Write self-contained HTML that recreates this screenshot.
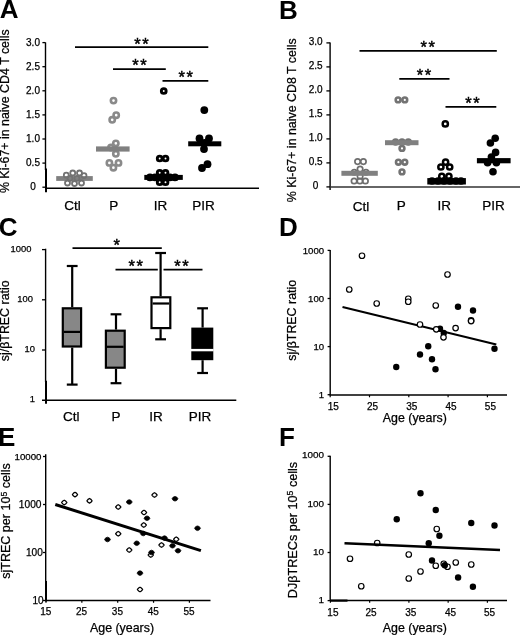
<!DOCTYPE html>
<html><head><meta charset="utf-8"><style>
html,body{margin:0;padding:0;background:#fff;}
body{width:520px;height:635px;overflow:hidden;}
svg{display:block;font-family:"Liberation Sans", sans-serif;will-change:transform;filter:blur(0.3px);}
</style></head><body>
<svg width="520" height="635" viewBox="0 0 520 635">
<rect width="520" height="635" fill="#fff"/>
<text x="-0.35" y="17.90" font-size="26" text-anchor="start" font-weight="bold" >A</text>
<text x="279.06" y="18.60" font-size="26" text-anchor="start" font-weight="bold" >B</text>
<text x="-1.27" y="236.30" font-size="26" text-anchor="start" font-weight="bold" >C</text>
<text x="279.06" y="236.40" font-size="26" text-anchor="start" font-weight="bold" >D</text>
<text x="-1.94" y="445.90" font-size="26" text-anchor="start" font-weight="bold" >E</text>
<text x="279.06" y="445.50" font-size="26" text-anchor="start" font-weight="bold" >F</text>
<line x1="45.50" y1="42.40" x2="45.50" y2="170.00" stroke="#000" stroke-width="1.4"/>
<line x1="46.00" y1="168.50" x2="46.00" y2="192.30" stroke="#000" stroke-width="2.0"/>
<line x1="45.50" y1="188.20" x2="259.00" y2="188.20" stroke="#000" stroke-width="1.6"/>
<line x1="42.40" y1="187.20" x2="45.50" y2="187.20" stroke="#000" stroke-width="1.3"/>
<text x="33.00" y="190.10" font-size="10" text-anchor="middle" font-weight="normal" stroke="#000" stroke-width="0.25">0</text>
<line x1="42.40" y1="163.10" x2="45.50" y2="163.10" stroke="#000" stroke-width="1.3"/>
<text x="33.00" y="166.00" font-size="10" text-anchor="middle" font-weight="normal" stroke="#000" stroke-width="0.25">0.5</text>
<line x1="42.40" y1="139.00" x2="45.50" y2="139.00" stroke="#000" stroke-width="1.3"/>
<text x="33.00" y="141.90" font-size="10" text-anchor="middle" font-weight="normal" stroke="#000" stroke-width="0.25">1.0</text>
<line x1="42.40" y1="114.90" x2="45.50" y2="114.90" stroke="#000" stroke-width="1.3"/>
<text x="33.00" y="117.80" font-size="10" text-anchor="middle" font-weight="normal" stroke="#000" stroke-width="0.25">1.5</text>
<line x1="42.40" y1="90.80" x2="45.50" y2="90.80" stroke="#000" stroke-width="1.3"/>
<text x="33.00" y="93.70" font-size="10" text-anchor="middle" font-weight="normal" stroke="#000" stroke-width="0.25">2.0</text>
<line x1="42.40" y1="66.70" x2="45.50" y2="66.70" stroke="#000" stroke-width="1.3"/>
<text x="33.00" y="69.60" font-size="10" text-anchor="middle" font-weight="normal" stroke="#000" stroke-width="0.25">2.5</text>
<line x1="42.40" y1="42.60" x2="45.50" y2="42.60" stroke="#000" stroke-width="1.3"/>
<text x="33.00" y="45.50" font-size="10" text-anchor="middle" font-weight="normal" stroke="#000" stroke-width="0.25">3.0</text>
<text transform="translate(8.90,111.20) rotate(-90)" font-size="12.4" text-anchor="middle" stroke="#000" stroke-width="0.25">% Ki-67+ in naive CD4 T cells</text>
<text x="64.21" y="209.70" font-size="13.5" text-anchor="start" font-weight="normal" stroke="#000" stroke-width="0.25">Ctl</text>
<text x="109.19" y="209.70" font-size="13.5" text-anchor="start" font-weight="normal" stroke="#000" stroke-width="0.25">P</text>
<text x="153.66" y="209.70" font-size="13.5" text-anchor="start" font-weight="normal" stroke="#000" stroke-width="0.25">IR</text>
<text x="192.19" y="209.70" font-size="13.5" text-anchor="start" font-weight="normal" stroke="#000" stroke-width="0.25">PIR</text>
<line x1="75.00" y1="47.20" x2="208.30" y2="47.20" stroke="#000" stroke-width="1.7"/>
<text x="134.34" y="50.25" font-size="16.5" letter-spacing="1.6" stroke="#000" stroke-width="0.45">**</text>
<line x1="113.00" y1="69.10" x2="165.80" y2="69.10" stroke="#000" stroke-width="1.7"/>
<text x="132.14" y="71.05" font-size="16.5" letter-spacing="1.6" stroke="#000" stroke-width="0.45">**</text>
<line x1="162.50" y1="80.80" x2="208.30" y2="80.80" stroke="#000" stroke-width="1.7"/>
<text x="178.54" y="82.85" font-size="16.5" letter-spacing="1.6" stroke="#000" stroke-width="0.45">**</text>
<rect x="56.20" y="176.10" width="36.60" height="4.80" fill="#808080" stroke="none" stroke-width="0"/>
<circle cx="70.00" cy="178.30" r="2.5" fill="none" stroke="#727272" stroke-width="1.8"/>
<circle cx="77.00" cy="178.30" r="2.5" fill="none" stroke="#727272" stroke-width="1.8"/>
<circle cx="72.75" cy="173.00" r="2.5" fill="none" stroke="#727272" stroke-width="1.8"/>
<circle cx="79.50" cy="173.00" r="2.5" fill="none" stroke="#727272" stroke-width="1.8"/>
<circle cx="66.30" cy="175.20" r="2.5" fill="none" stroke="#727272" stroke-width="1.8"/>
<circle cx="84.00" cy="175.60" r="2.5" fill="none" stroke="#727272" stroke-width="1.8"/>
<circle cx="67.50" cy="183.00" r="2.5" fill="none" stroke="#727272" stroke-width="1.8"/>
<circle cx="74.50" cy="183.50" r="2.5" fill="none" stroke="#727272" stroke-width="1.8"/>
<circle cx="81.50" cy="183.00" r="2.5" fill="none" stroke="#727272" stroke-width="1.8"/>
<circle cx="113.50" cy="100.60" r="2.65" fill="none" stroke="#8a8a8a" stroke-width="2.6"/>
<circle cx="116.20" cy="115.20" r="2.65" fill="none" stroke="#8a8a8a" stroke-width="2.6"/>
<circle cx="112.20" cy="119.80" r="2.65" fill="none" stroke="#8a8a8a" stroke-width="2.6"/>
<circle cx="111.00" cy="147.50" r="2.65" fill="none" stroke="#8a8a8a" stroke-width="2.6"/>
<circle cx="115.85" cy="143.35" r="2.65" fill="none" stroke="#8a8a8a" stroke-width="2.6"/>
<circle cx="115.85" cy="153.80" r="2.65" fill="none" stroke="#8a8a8a" stroke-width="2.6"/>
<circle cx="109.40" cy="162.90" r="2.65" fill="none" stroke="#8a8a8a" stroke-width="2.6"/>
<circle cx="118.50" cy="162.90" r="2.65" fill="none" stroke="#8a8a8a" stroke-width="2.6"/>
<circle cx="113.40" cy="167.70" r="2.65" fill="none" stroke="#8a8a8a" stroke-width="2.6"/>
<rect x="96.00" y="146.40" width="33.60" height="5.20" fill="#808080" stroke="none" stroke-width="0"/>
<circle cx="163.75" cy="91.00" r="2.4" fill="none" stroke="#000" stroke-width="2.9"/>
<circle cx="159.70" cy="158.50" r="2.4" fill="none" stroke="#000" stroke-width="2.9"/>
<circle cx="165.50" cy="158.50" r="2.4" fill="none" stroke="#000" stroke-width="2.9"/>
<circle cx="150.00" cy="177.40" r="2.4" fill="none" stroke="#000" stroke-width="2.9"/>
<circle cx="155.00" cy="177.40" r="2.4" fill="none" stroke="#000" stroke-width="2.9"/>
<circle cx="170.00" cy="177.40" r="2.4" fill="none" stroke="#000" stroke-width="2.9"/>
<circle cx="175.00" cy="177.40" r="2.4" fill="none" stroke="#000" stroke-width="2.9"/>
<circle cx="159.70" cy="172.80" r="2.4" fill="none" stroke="#000" stroke-width="2.9"/>
<circle cx="165.50" cy="172.80" r="2.4" fill="none" stroke="#000" stroke-width="2.9"/>
<circle cx="159.70" cy="182.20" r="2.4" fill="none" stroke="#000" stroke-width="2.9"/>
<circle cx="165.50" cy="182.20" r="2.4" fill="none" stroke="#000" stroke-width="2.9"/>
<rect x="144.30" y="174.90" width="38.50" height="5.00" fill="#000" stroke="none" stroke-width="0"/>
<circle cx="204.30" cy="110.10" r="3.9" fill="#000"/>
<circle cx="199.50" cy="138.40" r="3.9" fill="#000"/>
<circle cx="209.00" cy="138.40" r="3.9" fill="#000"/>
<circle cx="204.60" cy="143.00" r="3.9" fill="#000"/>
<circle cx="204.00" cy="149.10" r="3.9" fill="#000"/>
<circle cx="202.00" cy="168.00" r="3.9" fill="#000"/>
<circle cx="207.50" cy="164.20" r="3.9" fill="#000"/>
<rect x="188.20" y="141.30" width="33.10" height="5.00" fill="#000" stroke="none" stroke-width="0"/>
<line x1="330.10" y1="42.40" x2="330.10" y2="190.00" stroke="#000" stroke-width="1.4"/>
<line x1="330.10" y1="187.00" x2="520.00" y2="187.00" stroke="#333" stroke-width="1.7"/>
<line x1="326.40" y1="186.90" x2="330.10" y2="186.90" stroke="#000" stroke-width="1.3"/>
<text x="315.60" y="189.20" font-size="10" text-anchor="middle" font-weight="normal" stroke="#000" stroke-width="0.25">0</text>
<line x1="326.40" y1="162.90" x2="330.10" y2="162.90" stroke="#000" stroke-width="1.3"/>
<text x="315.60" y="165.20" font-size="10" text-anchor="middle" font-weight="normal" stroke="#000" stroke-width="0.25">0.5</text>
<line x1="326.40" y1="138.90" x2="330.10" y2="138.90" stroke="#000" stroke-width="1.3"/>
<text x="315.60" y="141.20" font-size="10" text-anchor="middle" font-weight="normal" stroke="#000" stroke-width="0.25">1.0</text>
<line x1="326.40" y1="114.90" x2="330.10" y2="114.90" stroke="#000" stroke-width="1.3"/>
<text x="315.60" y="117.20" font-size="10" text-anchor="middle" font-weight="normal" stroke="#000" stroke-width="0.25">1.5</text>
<line x1="326.40" y1="90.90" x2="330.10" y2="90.90" stroke="#000" stroke-width="1.3"/>
<text x="315.60" y="93.20" font-size="10" text-anchor="middle" font-weight="normal" stroke="#000" stroke-width="0.25">2.0</text>
<line x1="326.40" y1="66.90" x2="330.10" y2="66.90" stroke="#000" stroke-width="1.3"/>
<text x="315.60" y="69.20" font-size="10" text-anchor="middle" font-weight="normal" stroke="#000" stroke-width="0.25">2.5</text>
<line x1="326.40" y1="42.90" x2="330.10" y2="42.90" stroke="#000" stroke-width="1.3"/>
<text x="315.60" y="45.20" font-size="10" text-anchor="middle" font-weight="normal" stroke="#000" stroke-width="0.25">3.0</text>
<text transform="translate(296.30,120.30) rotate(-90)" font-size="12.4" text-anchor="middle" stroke="#000" stroke-width="0.25">% Ki-67+ in naive CD8 T cells</text>
<text x="352.81" y="211.40" font-size="13.5" text-anchor="start" font-weight="normal" stroke="#000" stroke-width="0.25">Ctl</text>
<text x="396.79" y="209.90" font-size="13.5" text-anchor="start" font-weight="normal" stroke="#000" stroke-width="0.25">P</text>
<text x="437.46" y="209.90" font-size="13.5" text-anchor="start" font-weight="normal" stroke="#000" stroke-width="0.25">IR</text>
<text x="482.19" y="209.90" font-size="13.5" text-anchor="start" font-weight="normal" stroke="#000" stroke-width="0.25">PIR</text>
<line x1="359.50" y1="50.80" x2="496.80" y2="50.80" stroke="#000" stroke-width="1.7"/>
<text x="420.54" y="53.05" font-size="16.5" letter-spacing="1.6" stroke="#000" stroke-width="0.45">**</text>
<line x1="399.30" y1="78.80" x2="449.50" y2="78.80" stroke="#000" stroke-width="1.7"/>
<text x="416.84" y="81.25" font-size="16.5" letter-spacing="1.6" stroke="#000" stroke-width="0.45">**</text>
<line x1="445.50" y1="106.80" x2="496.30" y2="106.80" stroke="#000" stroke-width="1.7"/>
<text x="465.34" y="108.85" font-size="16.5" letter-spacing="1.6" stroke="#000" stroke-width="0.45">**</text>
<circle cx="357.60" cy="161.60" r="2.7" fill="none" stroke="#6e6e6e" stroke-width="1.7"/>
<circle cx="363.40" cy="161.60" r="2.7" fill="none" stroke="#6e6e6e" stroke-width="1.7"/>
<circle cx="360.10" cy="169.10" r="2.7" fill="none" stroke="#6e6e6e" stroke-width="1.7"/>
<circle cx="354.30" cy="172.30" r="2.7" fill="none" stroke="#6e6e6e" stroke-width="1.7"/>
<circle cx="366.00" cy="172.30" r="2.7" fill="none" stroke="#6e6e6e" stroke-width="1.7"/>
<circle cx="360.10" cy="176.20" r="2.7" fill="none" stroke="#6e6e6e" stroke-width="1.7"/>
<circle cx="354.10" cy="181.00" r="2.7" fill="none" stroke="#6e6e6e" stroke-width="1.7"/>
<circle cx="359.90" cy="181.00" r="2.7" fill="none" stroke="#6e6e6e" stroke-width="1.7"/>
<circle cx="365.40" cy="181.00" r="2.7" fill="none" stroke="#6e6e6e" stroke-width="1.7"/>
<rect x="341.40" y="170.80" width="36.40" height="5.00" fill="#808080" stroke="none" stroke-width="0"/>
<circle cx="398.10" cy="99.90" r="2.4" fill="none" stroke="#737373" stroke-width="2.6"/>
<circle cx="404.80" cy="99.90" r="2.4" fill="none" stroke="#737373" stroke-width="2.6"/>
<circle cx="395.60" cy="142.00" r="2.4" fill="none" stroke="#737373" stroke-width="2.6"/>
<circle cx="402.00" cy="142.00" r="2.4" fill="none" stroke="#737373" stroke-width="2.6"/>
<circle cx="408.30" cy="142.00" r="2.4" fill="none" stroke="#737373" stroke-width="2.6"/>
<circle cx="402.00" cy="148.40" r="2.4" fill="none" stroke="#737373" stroke-width="2.6"/>
<circle cx="398.40" cy="162.20" r="2.4" fill="none" stroke="#737373" stroke-width="2.6"/>
<circle cx="404.80" cy="162.20" r="2.4" fill="none" stroke="#737373" stroke-width="2.6"/>
<circle cx="402.00" cy="171.90" r="2.4" fill="none" stroke="#737373" stroke-width="2.6"/>
<rect x="385.00" y="140.20" width="33.50" height="5.00" fill="#808080" stroke="none" stroke-width="0"/>
<circle cx="445.30" cy="123.90" r="2.6" fill="none" stroke="#000" stroke-width="2.5"/>
<circle cx="445.60" cy="162.20" r="2.6" fill="none" stroke="#000" stroke-width="2.5"/>
<circle cx="440.90" cy="167.00" r="2.6" fill="none" stroke="#000" stroke-width="2.5"/>
<circle cx="449.70" cy="167.00" r="2.6" fill="none" stroke="#000" stroke-width="2.5"/>
<circle cx="441.80" cy="176.40" r="2.6" fill="none" stroke="#000" stroke-width="2.5"/>
<circle cx="448.90" cy="176.40" r="2.6" fill="none" stroke="#000" stroke-width="2.5"/>
<circle cx="432.00" cy="181.00" r="2.6" fill="none" stroke="#000" stroke-width="2.5"/>
<circle cx="438.00" cy="181.00" r="2.6" fill="none" stroke="#000" stroke-width="2.5"/>
<circle cx="444.00" cy="181.00" r="2.6" fill="none" stroke="#000" stroke-width="2.5"/>
<circle cx="450.00" cy="181.00" r="2.6" fill="none" stroke="#000" stroke-width="2.5"/>
<circle cx="456.00" cy="181.00" r="2.6" fill="none" stroke="#000" stroke-width="2.5"/>
<circle cx="461.00" cy="181.00" r="2.6" fill="none" stroke="#000" stroke-width="2.5"/>
<rect x="427.30" y="178.10" width="38.60" height="6.40" fill="#000" stroke="none" stroke-width="0"/>
<circle cx="495.20" cy="138.20" r="3.8" fill="#000"/>
<circle cx="490.40" cy="143.00" r="3.8" fill="#000"/>
<circle cx="495.60" cy="152.40" r="3.8" fill="#000"/>
<circle cx="491.40" cy="157.10" r="3.8" fill="#000"/>
<circle cx="487.60" cy="162.80" r="3.8" fill="#000"/>
<circle cx="496.40" cy="162.80" r="3.8" fill="#000"/>
<circle cx="493.00" cy="171.80" r="3.8" fill="#000"/>
<rect x="476.90" y="158.10" width="33.70" height="5.20" fill="#000" stroke="none" stroke-width="0"/>
<line x1="45.60" y1="248.70" x2="45.60" y2="382.00" stroke="#000" stroke-width="1.4"/>
<line x1="46.00" y1="380.70" x2="46.00" y2="403.80" stroke="#000" stroke-width="2.0"/>
<line x1="42.00" y1="400.30" x2="236.30" y2="400.30" stroke="#000" stroke-width="1.5"/>
<line x1="42.00" y1="249.60" x2="45.60" y2="249.60" stroke="#000" stroke-width="1.3"/>
<text x="31.35" y="251.60" font-size="9.4" text-anchor="end" font-weight="normal" stroke="#000" stroke-width="0.25">1000</text>
<line x1="42.00" y1="299.80" x2="45.60" y2="299.80" stroke="#000" stroke-width="1.3"/>
<text x="32.95" y="301.70" font-size="9.4" text-anchor="end" font-weight="normal" stroke="#000" stroke-width="0.25">100</text>
<line x1="42.00" y1="350.00" x2="45.60" y2="350.00" stroke="#000" stroke-width="1.3"/>
<text x="34.95" y="351.60" font-size="9.4" text-anchor="end" font-weight="normal" stroke="#000" stroke-width="0.25">10</text>
<text x="34.95" y="402.20" font-size="9.4" text-anchor="end" font-weight="normal" stroke="#000" stroke-width="0.25">1</text>
<text transform="translate(8.90,320.80) rotate(-90)" font-size="12.4" text-anchor="middle" stroke="#000" stroke-width="0.25">sj/&#946;TREC ratio</text>
<text x="62.91" y="421.20" font-size="13.5" text-anchor="start" font-weight="normal" stroke="#000" stroke-width="0.25">Ctl</text>
<text x="111.59" y="421.20" font-size="13.5" text-anchor="start" font-weight="normal" stroke="#000" stroke-width="0.25">P</text>
<text x="149.16" y="421.20" font-size="13.5" text-anchor="start" font-weight="normal" stroke="#000" stroke-width="0.25">IR</text>
<text x="188.79" y="421.20" font-size="13.5" text-anchor="start" font-weight="normal" stroke="#000" stroke-width="0.25">PIR</text>
<line x1="72.50" y1="248.20" x2="161.80" y2="248.20" stroke="#000" stroke-width="1.7"/>
<text x="113.54" y="251.25" font-size="16.5" letter-spacing="1.6" stroke="#000" stroke-width="0.45">*</text>
<line x1="115.50" y1="269.60" x2="157.80" y2="269.60" stroke="#000" stroke-width="1.7"/>
<line x1="163.50" y1="269.60" x2="202.50" y2="269.60" stroke="#000" stroke-width="1.7"/>
<text x="128.54" y="272.25" font-size="16.5" letter-spacing="1.6" stroke="#000" stroke-width="0.45">**</text>
<text x="174.34" y="272.25" font-size="16.5" letter-spacing="1.6" stroke="#000" stroke-width="0.45">**</text>
<line x1="72.20" y1="266.00" x2="72.20" y2="307.20" stroke="#000" stroke-width="2.2"/>
<line x1="72.20" y1="347.60" x2="72.20" y2="384.60" stroke="#000" stroke-width="2.2"/>
<line x1="66.80" y1="266.00" x2="77.60" y2="266.00" stroke="#000" stroke-width="2.2"/>
<line x1="66.80" y1="384.60" x2="77.60" y2="384.60" stroke="#000" stroke-width="2.2"/>
<rect x="62.80" y="308.30" width="18.30" height="38.20" fill="#878787" stroke="#000" stroke-width="2.2"/>
<line x1="63.90" y1="331.90" x2="80.00" y2="331.90" stroke="#000" stroke-width="2.2"/>
<line x1="116.00" y1="314.30" x2="116.00" y2="329.60" stroke="#000" stroke-width="2.2"/>
<line x1="116.00" y1="368.80" x2="116.00" y2="383.20" stroke="#000" stroke-width="2.2"/>
<line x1="110.60" y1="314.30" x2="121.40" y2="314.30" stroke="#000" stroke-width="2.2"/>
<line x1="110.60" y1="383.20" x2="121.40" y2="383.20" stroke="#000" stroke-width="2.2"/>
<rect x="105.90" y="330.70" width="18.80" height="37.00" fill="#878787" stroke="#000" stroke-width="2.2"/>
<line x1="107.00" y1="346.80" x2="123.60" y2="346.80" stroke="#000" stroke-width="2.2"/>
<line x1="160.60" y1="253.00" x2="160.60" y2="296.20" stroke="#000" stroke-width="2.2"/>
<line x1="160.60" y1="329.20" x2="160.60" y2="339.30" stroke="#000" stroke-width="2.2"/>
<line x1="155.20" y1="253.00" x2="166.00" y2="253.00" stroke="#000" stroke-width="2.2"/>
<line x1="155.20" y1="339.30" x2="166.00" y2="339.30" stroke="#000" stroke-width="2.2"/>
<rect x="151.50" y="297.30" width="18.80" height="30.80" fill="#fff" stroke="#000" stroke-width="2.2"/>
<line x1="152.60" y1="303.50" x2="169.20" y2="303.50" stroke="#000" stroke-width="2.2"/>
<line x1="202.60" y1="308.30" x2="202.60" y2="327.60" stroke="#000" stroke-width="2.2"/>
<line x1="202.60" y1="360.20" x2="202.60" y2="373.00" stroke="#000" stroke-width="2.2"/>
<line x1="197.20" y1="308.30" x2="208.00" y2="308.30" stroke="#000" stroke-width="2.2"/>
<line x1="197.20" y1="373.00" x2="208.00" y2="373.00" stroke="#000" stroke-width="2.2"/>
<rect x="192.40" y="328.70" width="19.80" height="30.40" fill="#000" stroke="#000" stroke-width="2.2"/>
<line x1="191.00" y1="350.10" x2="213.60" y2="350.10" stroke="#fff" stroke-width="2.4"/>
<line x1="330.20" y1="250.00" x2="330.20" y2="395.50" stroke="#000" stroke-width="1.4"/>
<line x1="330.20" y1="395.00" x2="507.00" y2="395.00" stroke="#000" stroke-width="1.5"/>
<line x1="327.60" y1="250.40" x2="330.20" y2="250.40" stroke="#000" stroke-width="1.3"/>
<text x="324.10" y="253.80" font-size="9.6" text-anchor="end" font-weight="normal" stroke="#000" stroke-width="0.25">1000</text>
<line x1="327.60" y1="298.50" x2="330.20" y2="298.50" stroke="#000" stroke-width="1.3"/>
<text x="324.10" y="301.90" font-size="9.6" text-anchor="end" font-weight="normal" stroke="#000" stroke-width="0.25">100</text>
<line x1="327.60" y1="346.60" x2="330.20" y2="346.60" stroke="#000" stroke-width="1.3"/>
<text x="324.10" y="350.00" font-size="9.6" text-anchor="end" font-weight="normal" stroke="#000" stroke-width="0.25">10</text>
<line x1="327.60" y1="394.70" x2="330.20" y2="394.70" stroke="#000" stroke-width="1.3"/>
<text x="324.10" y="398.10" font-size="9.6" text-anchor="end" font-weight="normal" stroke="#000" stroke-width="0.25">1</text>
<line x1="330.20" y1="395.00" x2="330.20" y2="397.30" stroke="#000" stroke-width="1.2"/>
<text x="333.20" y="409.80" font-size="10" text-anchor="middle" font-weight="normal" stroke="#000" stroke-width="0.25">15</text>
<line x1="369.50" y1="395.00" x2="369.50" y2="397.30" stroke="#000" stroke-width="1.2"/>
<text x="372.50" y="409.80" font-size="10" text-anchor="middle" font-weight="normal" stroke="#000" stroke-width="0.25">25</text>
<line x1="408.80" y1="395.00" x2="408.80" y2="397.30" stroke="#000" stroke-width="1.2"/>
<text x="411.80" y="409.80" font-size="10" text-anchor="middle" font-weight="normal" stroke="#000" stroke-width="0.25">35</text>
<line x1="448.10" y1="395.00" x2="448.10" y2="397.30" stroke="#000" stroke-width="1.2"/>
<text x="451.10" y="409.80" font-size="10" text-anchor="middle" font-weight="normal" stroke="#000" stroke-width="0.25">45</text>
<line x1="487.40" y1="395.00" x2="487.40" y2="397.30" stroke="#000" stroke-width="1.2"/>
<text x="490.40" y="409.80" font-size="10" text-anchor="middle" font-weight="normal" stroke="#000" stroke-width="0.25">55</text>
<text x="382.80" y="421.80" font-size="12.4" text-anchor="start" font-weight="normal" stroke="#000" stroke-width="0.25">Age (years)</text>
<text transform="translate(296.30,320.30) rotate(-90)" font-size="12.4" text-anchor="middle" stroke="#000" stroke-width="0.25">sj/&#946;TREC ratio</text>
<line x1="342.50" y1="306.90" x2="496.30" y2="344.50" stroke="#000" stroke-width="2.1"/>
<circle cx="458.00" cy="306.75" r="3.2" fill="#000"/>
<circle cx="473.00" cy="310.50" r="3.2" fill="#000"/>
<circle cx="440.00" cy="328.75" r="3.2" fill="#000"/>
<circle cx="443.75" cy="333.00" r="3.2" fill="#000"/>
<circle cx="428.25" cy="346.25" r="3.2" fill="#000"/>
<circle cx="420.00" cy="354.50" r="3.2" fill="#000"/>
<circle cx="432.00" cy="359.25" r="3.2" fill="#000"/>
<circle cx="435.50" cy="369.25" r="3.2" fill="#000"/>
<circle cx="396.25" cy="367.00" r="3.2" fill="#000"/>
<circle cx="494.50" cy="348.75" r="3.2" fill="#000"/>
<circle cx="362.00" cy="255.75" r="2.75" fill="#fff" stroke="#000" stroke-width="1.2"/>
<circle cx="349.25" cy="289.50" r="2.75" fill="#fff" stroke="#000" stroke-width="1.2"/>
<circle cx="376.70" cy="303.50" r="2.75" fill="#fff" stroke="#000" stroke-width="1.2"/>
<circle cx="408.25" cy="298.75" r="2.75" fill="#fff" stroke="#000" stroke-width="1.2"/>
<circle cx="408.25" cy="301.75" r="2.75" fill="#fff" stroke="#000" stroke-width="1.2"/>
<circle cx="435.75" cy="305.50" r="2.75" fill="#fff" stroke="#000" stroke-width="1.2"/>
<circle cx="447.50" cy="274.50" r="2.75" fill="#fff" stroke="#000" stroke-width="1.2"/>
<circle cx="420.00" cy="324.50" r="2.75" fill="#fff" stroke="#000" stroke-width="1.2"/>
<circle cx="436.25" cy="329.30" r="2.75" fill="#fff" stroke="#000" stroke-width="1.2"/>
<circle cx="443.50" cy="337.30" r="2.75" fill="#fff" stroke="#000" stroke-width="1.2"/>
<circle cx="455.60" cy="328.10" r="2.75" fill="#fff" stroke="#000" stroke-width="1.2"/>
<circle cx="471.10" cy="320.40" r="2.75" fill="#fff" stroke="#000" stroke-width="1.2"/>
<circle cx="471.10" cy="321.10" r="2.75" fill="#fff" stroke="#000" stroke-width="1.2"/>
<line x1="45.70" y1="454.30" x2="45.70" y2="583.00" stroke="#000" stroke-width="1.4"/>
<line x1="46.00" y1="581.00" x2="46.00" y2="601.50" stroke="#000" stroke-width="2.0"/>
<line x1="45.70" y1="600.40" x2="210.50" y2="600.40" stroke="#000" stroke-width="1.5"/>
<line x1="43.00" y1="456.50" x2="45.70" y2="456.50" stroke="#000" stroke-width="1.3"/>
<text x="41.50" y="460.00" font-size="9.7" text-anchor="end" font-weight="normal" stroke="#000" stroke-width="0.25">10000</text>
<line x1="43.00" y1="504.50" x2="45.70" y2="504.50" stroke="#000" stroke-width="1.3"/>
<text x="41.50" y="508.20" font-size="10.2" text-anchor="end" font-weight="normal" stroke="#000" stroke-width="0.25">1000</text>
<line x1="43.00" y1="552.50" x2="45.70" y2="552.50" stroke="#000" stroke-width="1.3"/>
<text x="42.80" y="555.60" font-size="10.1" text-anchor="end" font-weight="normal" stroke="#000" stroke-width="0.25">100</text>
<line x1="43.00" y1="600.50" x2="45.70" y2="600.50" stroke="#000" stroke-width="1.3"/>
<text x="43.60" y="603.50" font-size="10.0" text-anchor="end" font-weight="normal" stroke="#000" stroke-width="0.25">10</text>
<line x1="46.00" y1="600.40" x2="46.00" y2="602.80" stroke="#000" stroke-width="1.2"/>
<text x="45.70" y="615.30" font-size="10" text-anchor="middle" font-weight="normal" stroke="#000" stroke-width="0.25">15</text>
<line x1="81.85" y1="600.40" x2="81.85" y2="602.80" stroke="#000" stroke-width="1.2"/>
<text x="81.55" y="615.30" font-size="10" text-anchor="middle" font-weight="normal" stroke="#000" stroke-width="0.25">25</text>
<line x1="117.70" y1="600.40" x2="117.70" y2="602.80" stroke="#000" stroke-width="1.2"/>
<text x="117.40" y="615.30" font-size="10" text-anchor="middle" font-weight="normal" stroke="#000" stroke-width="0.25">35</text>
<line x1="153.55" y1="600.40" x2="153.55" y2="602.80" stroke="#000" stroke-width="1.2"/>
<text x="153.25" y="615.30" font-size="10" text-anchor="middle" font-weight="normal" stroke="#000" stroke-width="0.25">45</text>
<line x1="189.40" y1="600.40" x2="189.40" y2="602.80" stroke="#000" stroke-width="1.2"/>
<text x="189.10" y="615.30" font-size="10" text-anchor="middle" font-weight="normal" stroke="#000" stroke-width="0.25">55</text>
<text x="90.00" y="631.60" font-size="12.4" text-anchor="start" font-weight="normal" stroke="#000" stroke-width="0.25">Age (years)</text>
<text transform="translate(10.0,521.0) rotate(-90)" font-size="12.55" text-anchor="middle" stroke="#000" stroke-width="0.25">sjTREC per 10<tspan font-size="8.6" dy="-3.4">5</tspan><tspan dy="3.4"> cells</tspan></text>
<line x1="55.30" y1="504.50" x2="200.90" y2="550.60" stroke="#000" stroke-width="3.0"/>
<path d="M66.85 502.50 L65.70 503.95 L64.25 504.80 L62.80 503.95 L61.65 502.50 L62.80 501.05 L64.25 500.20 L65.70 501.05Z" fill="#fff" stroke="#000" stroke-width="1.25" stroke-linejoin="round"/>
<path d="M77.60 494.60 L76.45 496.05 L75.00 496.90 L73.55 496.05 L72.40 494.60 L73.55 493.15 L75.00 492.30 L76.45 493.15Z" fill="#fff" stroke="#000" stroke-width="1.25" stroke-linejoin="round"/>
<path d="M92.10 500.80 L90.95 502.25 L89.50 503.10 L88.05 502.25 L86.90 500.80 L88.05 499.35 L89.50 498.50 L90.95 499.35Z" fill="#fff" stroke="#000" stroke-width="1.25" stroke-linejoin="round"/>
<path d="M120.85 507.00 L119.70 508.45 L118.25 509.30 L116.80 508.45 L115.65 507.00 L116.80 505.55 L118.25 504.70 L119.70 505.55Z" fill="#fff" stroke="#000" stroke-width="1.25" stroke-linejoin="round"/>
<path d="M157.10 495.00 L155.95 496.45 L154.50 497.30 L153.05 496.45 L151.90 495.00 L153.05 493.55 L154.50 492.70 L155.95 493.55Z" fill="#fff" stroke="#000" stroke-width="1.25" stroke-linejoin="round"/>
<path d="M146.60 512.50 L145.45 513.95 L144.00 514.80 L142.55 513.95 L141.40 512.50 L142.55 511.05 L144.00 510.20 L145.45 511.05Z" fill="#fff" stroke="#000" stroke-width="1.25" stroke-linejoin="round"/>
<path d="M146.35 525.00 L145.20 526.45 L143.75 527.30 L142.30 526.45 L141.15 525.00 L142.30 523.55 L143.75 522.70 L145.20 523.55Z" fill="#fff" stroke="#000" stroke-width="1.25" stroke-linejoin="round"/>
<path d="M120.85 533.75 L119.70 535.20 L118.25 536.05 L116.80 535.20 L115.65 533.75 L116.80 532.30 L118.25 531.45 L119.70 532.30Z" fill="#fff" stroke="#000" stroke-width="1.25" stroke-linejoin="round"/>
<path d="M178.85 539.25 L177.70 540.70 L176.25 541.55 L174.80 540.70 L173.65 539.25 L174.80 537.80 L176.25 536.95 L177.70 537.80Z" fill="#fff" stroke="#000" stroke-width="1.25" stroke-linejoin="round"/>
<path d="M164.10 545.00 L162.95 546.45 L161.50 547.30 L160.05 546.45 L158.90 545.00 L160.05 543.55 L161.50 542.70 L162.95 543.55Z" fill="#fff" stroke="#000" stroke-width="1.25" stroke-linejoin="round"/>
<path d="M131.85 550.00 L130.70 551.45 L129.25 552.30 L127.80 551.45 L126.65 550.00 L127.80 548.55 L129.25 547.70 L130.70 548.55Z" fill="#fff" stroke="#000" stroke-width="1.25" stroke-linejoin="round"/>
<path d="M153.35 555.00 L152.20 556.45 L150.75 557.30 L149.30 556.45 L148.15 555.00 L149.30 553.55 L150.75 552.70 L152.20 553.55Z" fill="#fff" stroke="#000" stroke-width="1.25" stroke-linejoin="round"/>
<path d="M142.60 589.50 L141.45 590.95 L140.00 591.80 L138.55 590.95 L137.40 589.50 L138.55 588.05 L140.00 587.20 L141.45 588.05Z" fill="#fff" stroke="#000" stroke-width="1.25" stroke-linejoin="round"/>
<path d="M132.25 502.00 L130.98 503.73 L129.25 504.35 L127.52 503.73 L126.25 502.00 L127.52 500.27 L129.25 499.65 L130.98 500.27Z" fill="#000" stroke="#000" stroke-width="0.7" stroke-linejoin="round"/>
<path d="M150.00 518.25 L148.73 519.98 L147.00 520.60 L145.27 519.98 L144.00 518.25 L145.27 516.52 L147.00 515.90 L148.73 516.52Z" fill="#000" stroke="#000" stroke-width="0.7" stroke-linejoin="round"/>
<path d="M146.25 533.50 L144.98 535.23 L143.25 535.85 L141.52 535.23 L140.25 533.50 L141.52 531.77 L143.25 531.15 L144.98 531.77Z" fill="#000" stroke="#000" stroke-width="0.7" stroke-linejoin="round"/>
<path d="M110.50 539.50 L109.23 541.23 L107.50 541.85 L105.77 541.23 L104.50 539.50 L105.77 537.77 L107.50 537.15 L109.23 537.77Z" fill="#000" stroke="#000" stroke-width="0.7" stroke-linejoin="round"/>
<path d="M139.75 543.25 L138.48 544.98 L136.75 545.60 L135.02 544.98 L133.75 543.25 L135.02 541.52 L136.75 540.90 L138.48 541.52Z" fill="#000" stroke="#000" stroke-width="0.7" stroke-linejoin="round"/>
<path d="M154.50 552.50 L153.23 554.23 L151.50 554.85 L149.77 554.23 L148.50 552.50 L149.77 550.77 L151.50 550.15 L153.23 550.77Z" fill="#000" stroke="#000" stroke-width="0.7" stroke-linejoin="round"/>
<path d="M143.00 573.10 L141.73 574.83 L140.00 575.45 L138.27 574.83 L137.00 573.10 L138.27 571.37 L140.00 570.75 L141.73 571.37Z" fill="#000" stroke="#000" stroke-width="0.7" stroke-linejoin="round"/>
<path d="M167.50 538.10 L166.23 539.83 L164.50 540.45 L162.77 539.83 L161.50 538.10 L162.77 536.37 L164.50 535.75 L166.23 536.37Z" fill="#000" stroke="#000" stroke-width="0.7" stroke-linejoin="round"/>
<path d="M175.50 545.75 L174.23 547.48 L172.50 548.10 L170.77 547.48 L169.50 545.75 L170.77 544.02 L172.50 543.40 L174.23 544.02Z" fill="#000" stroke="#000" stroke-width="0.7" stroke-linejoin="round"/>
<path d="M178.00 498.75 L176.73 500.48 L175.00 501.10 L173.27 500.48 L172.00 498.75 L173.27 497.02 L175.00 496.40 L176.73 497.02Z" fill="#000" stroke="#000" stroke-width="0.7" stroke-linejoin="round"/>
<path d="M200.50 528.25 L199.23 529.98 L197.50 530.60 L195.77 529.98 L194.50 528.25 L195.77 526.52 L197.50 525.90 L199.23 526.52Z" fill="#000" stroke="#000" stroke-width="0.7" stroke-linejoin="round"/>
<path d="M181.00 550.75 L179.73 552.48 L178.00 553.10 L176.27 552.48 L175.00 550.75 L176.27 549.02 L178.00 548.40 L179.73 549.02Z" fill="#000" stroke="#000" stroke-width="0.7" stroke-linejoin="round"/>
<line x1="330.20" y1="455.70" x2="330.20" y2="601.00" stroke="#000" stroke-width="1.4"/>
<line x1="330.20" y1="600.60" x2="507.00" y2="600.60" stroke="#000" stroke-width="1.5"/>
<line x1="330.00" y1="600.60" x2="347.50" y2="600.60" stroke="#000" stroke-width="2.2"/>
<line x1="327.60" y1="456.30" x2="330.20" y2="456.30" stroke="#000" stroke-width="1.3"/>
<text x="324.00" y="458.40" font-size="9.9" text-anchor="end" font-weight="normal" stroke="#000" stroke-width="0.25">1000</text>
<line x1="327.60" y1="504.40" x2="330.20" y2="504.40" stroke="#000" stroke-width="1.3"/>
<text x="324.00" y="506.50" font-size="9.9" text-anchor="end" font-weight="normal" stroke="#000" stroke-width="0.25">100</text>
<line x1="327.60" y1="552.50" x2="330.20" y2="552.50" stroke="#000" stroke-width="1.3"/>
<text x="324.00" y="554.60" font-size="9.9" text-anchor="end" font-weight="normal" stroke="#000" stroke-width="0.25">10</text>
<line x1="327.60" y1="600.60" x2="330.20" y2="600.60" stroke="#000" stroke-width="1.3"/>
<text x="324.00" y="602.70" font-size="9.9" text-anchor="end" font-weight="normal" stroke="#000" stroke-width="0.25">1</text>
<line x1="330.40" y1="600.60" x2="330.40" y2="602.80" stroke="#000" stroke-width="1.2"/>
<text x="332.90" y="616.00" font-size="10" text-anchor="middle" font-weight="normal" stroke="#000" stroke-width="0.25">15</text>
<line x1="369.65" y1="600.60" x2="369.65" y2="602.80" stroke="#000" stroke-width="1.2"/>
<text x="370.95" y="616.00" font-size="10" text-anchor="middle" font-weight="normal" stroke="#000" stroke-width="0.25">25</text>
<line x1="408.90" y1="600.60" x2="408.90" y2="602.80" stroke="#000" stroke-width="1.2"/>
<text x="410.80" y="616.00" font-size="10" text-anchor="middle" font-weight="normal" stroke="#000" stroke-width="0.25">35</text>
<line x1="448.15" y1="600.60" x2="448.15" y2="602.80" stroke="#000" stroke-width="1.2"/>
<text x="450.45" y="616.00" font-size="10" text-anchor="middle" font-weight="normal" stroke="#000" stroke-width="0.25">45</text>
<line x1="487.40" y1="600.60" x2="487.40" y2="602.80" stroke="#000" stroke-width="1.2"/>
<text x="489.50" y="616.00" font-size="10" text-anchor="middle" font-weight="normal" stroke="#000" stroke-width="0.25">55</text>
<text x="382.80" y="631.90" font-size="12.4" text-anchor="start" font-weight="normal" stroke="#000" stroke-width="0.25">Age (years)</text>
<text transform="translate(296.8,530.0) rotate(-90)" font-size="12.65" text-anchor="middle" stroke="#000" stroke-width="0.25">DJ&#946;TRECs per 10<tspan font-size="8.6" dy="-3.4">5</tspan><tspan dy="3.4"> cells</tspan></text>
<circle cx="350.00" cy="558.75" r="2.75" fill="#fff" stroke="#000" stroke-width="1.2"/>
<circle cx="361.25" cy="586.25" r="2.75" fill="#fff" stroke="#000" stroke-width="1.2"/>
<circle cx="377.20" cy="543.00" r="2.75" fill="#fff" stroke="#000" stroke-width="1.2"/>
<circle cx="408.75" cy="554.50" r="2.75" fill="#fff" stroke="#000" stroke-width="1.2"/>
<circle cx="436.75" cy="529.00" r="2.75" fill="#fff" stroke="#000" stroke-width="1.2"/>
<circle cx="435.75" cy="565.75" r="2.75" fill="#fff" stroke="#000" stroke-width="1.2"/>
<circle cx="443.75" cy="563.75" r="2.75" fill="#fff" stroke="#000" stroke-width="1.2"/>
<circle cx="447.50" cy="566.75" r="2.75" fill="#fff" stroke="#000" stroke-width="1.2"/>
<circle cx="455.75" cy="562.50" r="2.75" fill="#fff" stroke="#000" stroke-width="1.2"/>
<circle cx="471.25" cy="564.50" r="2.75" fill="#fff" stroke="#000" stroke-width="1.2"/>
<circle cx="420.50" cy="571.50" r="2.75" fill="#fff" stroke="#000" stroke-width="1.2"/>
<circle cx="408.75" cy="578.50" r="2.75" fill="#fff" stroke="#000" stroke-width="1.2"/>
<circle cx="420.50" cy="493.20" r="3.2" fill="#000"/>
<circle cx="435.75" cy="510.00" r="3.2" fill="#000"/>
<circle cx="396.75" cy="519.25" r="3.2" fill="#000"/>
<circle cx="471.25" cy="523.00" r="3.2" fill="#000"/>
<circle cx="494.50" cy="525.50" r="3.2" fill="#000"/>
<circle cx="439.40" cy="535.75" r="3.2" fill="#000"/>
<circle cx="428.75" cy="543.20" r="3.2" fill="#000"/>
<circle cx="432.00" cy="560.50" r="3.2" fill="#000"/>
<circle cx="444.80" cy="565.20" r="3.2" fill="#000"/>
<circle cx="458.10" cy="577.50" r="3.2" fill="#000"/>
<circle cx="472.90" cy="586.70" r="3.2" fill="#000"/>
<line x1="344.50" y1="543.30" x2="500.00" y2="550.00" stroke="#000" stroke-width="2.6"/>
</svg>
</body></html>
